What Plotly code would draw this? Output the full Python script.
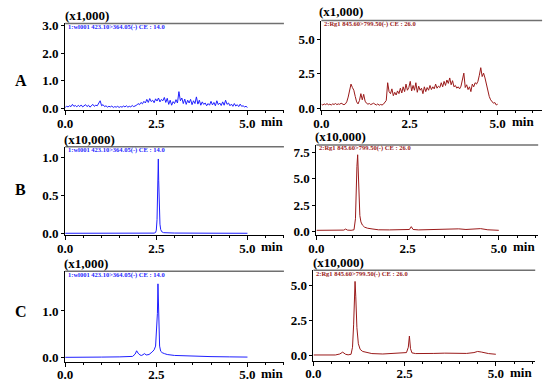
import plotly.graph_objects as go

# ---------------- data ----------------
time_step = 0.04  # min, sampling interval for the noisy traces

# Row A (x1,000) blank/noise traces, sampled every 0.04 min from 0.0 to 5.0
a_left_vals = [
    0.04, 0.08, 0.06, 0.10, 0.07, 0.15, 0.08, 0.11, 0.06, 0.12,
    0.07, 0.13, 0.06, 0.10, 0.14, 0.07, 0.12, 0.05, 0.09, 0.15,
    0.08, 0.12, 0.10, 0.22, 0.28, 0.10, 0.14, 0.07, 0.10, 0.05,
    0.08, 0.06, 0.09, 0.04, 0.07, 0.05, 0.08, 0.04, 0.07, 0.05,
    0.09, 0.06, 0.10, 0.05, 0.08, 0.06, 0.11, 0.07, 0.09, 0.12,
    0.18, 0.14, 0.22, 0.17, 0.26, 0.20, 0.33, 0.22, 0.36, 0.25,
    0.30, 0.21, 0.35, 0.27, 0.38, 0.24, 0.33, 0.28, 0.40, 0.22,
    0.37, 0.15, 0.30, 0.12, 0.25, 0.18, 0.32, 0.20, 0.61, 0.28,
    0.38, 0.18, 0.34, 0.15, 0.30, 0.20, 0.33, 0.14, 0.28, 0.18,
    0.42, 0.16, 0.30, 0.12, 0.24, 0.15, 0.20, 0.10, 0.18, 0.12,
    0.26, 0.13, 0.22, 0.10, 0.28, 0.14, 0.20, 0.11, 0.24, 0.12,
    0.30, 0.15, 0.20, 0.10, 0.16, 0.08, 0.18, 0.09, 0.14, 0.07,
    0.16, 0.08, 0.10, 0.06, 0.08, 0.04,
]
a_right_vals = [
    0.28, 0.22, 0.30, 0.25, 0.32, 0.24, 0.28, 0.22, 0.30, 0.26,
    0.33, 0.25, 0.30, 0.27, 0.35, 0.28, 0.24, 0.30, 0.45, 0.80,
    1.35, 1.75, 1.50, 1.30, 0.85, 0.45, 0.30, 0.55, 1.05, 0.60,
    1.00, 0.50, 0.35, 0.28, 0.33, 0.25, 0.30, 0.35, 0.28, 0.22,
    0.30, 0.20, 0.26, 0.22, 0.28, 0.40, 0.55, 1.85, 1.20, 1.05,
    1.40, 0.90, 1.15, 0.95, 1.25, 1.05, 1.45, 1.10, 1.55, 1.20,
    1.75, 1.30, 1.50, 1.95, 1.25, 1.65, 1.30, 1.85, 1.15, 1.60,
    1.30, 1.45, 1.05, 1.55, 1.20, 1.50, 1.30, 1.65, 1.35, 1.55,
    1.40, 1.75, 1.45, 1.60, 1.50, 1.85, 1.55, 1.95, 1.65, 2.05,
    1.80, 2.20, 1.70, 2.00, 1.55, 1.65, 1.45, 1.55, 1.40, 1.60,
    2.10, 2.55, 1.50, 1.70, 1.35, 1.55, 1.20, 1.75, 1.55, 1.85,
    1.75, 1.95, 2.40, 2.95, 2.30, 2.55, 2.20, 1.70, 1.30, 0.85,
    0.60, 0.50, 0.35, 0.40, 0.22, 0.28,
]
a_left_t = [round(i * time_step, 2) for i in range(len(a_left_vals))]
a_right_t = [round(i * time_step, 2) for i in range(len(a_right_vals))]

# Row B (x10,000)
b_left_t = [0.0, 1.0, 2.0, 2.44, 2.48, 2.50, 2.52, 2.535, 2.545, 2.555, 2.565,
            2.58, 2.60, 2.62, 2.65, 2.70, 3.0, 4.0, 5.0]
b_left_v = [0.0, 0.0, 0.0, 0.002, 0.01, 0.04, 0.18, 0.55, 0.80, 0.98, 0.70,
            0.35, 0.12, 0.05, 0.02, 0.008, 0.003, 0.001, 0.0]
b_right_t = [0.0, 0.3, 0.6, 0.75, 0.80, 0.85, 0.95, 1.03, 1.07, 1.09, 1.11, 1.13,
             1.15, 1.17, 1.19, 1.22, 1.26, 1.32, 1.40, 1.55, 1.70, 2.0, 2.3, 2.55,
             2.60, 2.65, 2.8, 3.0, 3.2, 3.4, 3.55, 3.7, 3.9, 4.1, 4.3, 4.5, 4.7, 5.0]
b_right_v = [0.10, 0.08, 0.10, 0.12, 0.22, 0.12, 0.10, 0.15, 1.2, 4.5, 6.2, 7.3,
             5.5, 2.6, 1.5, 0.9, 0.6, 0.4, 0.3, 0.22, 0.15, 0.14, 0.15, 0.18,
             0.45, 0.18, 0.14, 0.16, 0.18, 0.20, 0.25, 0.20, 0.24, 0.18, 0.20, 0.26, 0.15, 0.10]

# Row C
c_left_t = [0.0, 0.5, 1.0, 1.5, 1.85, 1.92, 1.96, 2.00, 2.05, 2.10, 2.15, 2.18, 2.22,
            2.30, 2.38, 2.44, 2.48, 2.51, 2.53, 2.545, 2.56, 2.575, 2.59, 2.62, 2.66,
            2.72, 2.8, 3.0, 3.3, 3.6, 4.0, 4.5, 5.0]
c_left_v = [0.01, 0.02, 0.015, 0.02, 0.03, 0.08, 0.15, 0.10, 0.06, 0.05, 0.07, 0.09, 0.06,
            0.07, 0.12, 0.17, 0.25, 0.55, 0.95, 1.58, 0.95, 0.50, 0.25, 0.14, 0.11,
            0.09, 0.07, 0.05, 0.04, 0.03, 0.025, 0.02, 0.015]
c_right_t = [0.0, 0.3, 0.6, 0.72, 0.80, 0.88, 0.95, 1.03, 1.07, 1.10, 1.12, 1.14, 1.16,
             1.19, 1.23, 1.28, 1.35, 1.45, 1.6, 1.9, 2.2, 2.4, 2.55, 2.60, 2.63, 2.66,
             2.70, 2.8, 3.0, 3.3, 3.6, 3.9, 4.2, 4.4, 4.5, 4.6, 4.8, 5.0]
c_right_v = [0.05, 0.06, 0.05, 0.12, 0.25, 0.10, 0.06, 0.10, 0.6, 2.2, 4.0, 5.3, 4.2,
             2.0, 0.85, 0.45, 0.30, 0.22, 0.15, 0.12, 0.15, 0.20, 0.22, 0.60, 1.40, 0.50,
             0.20, 0.15, 0.14, 0.16, 0.18, 0.15, 0.16, 0.22, 0.30, 0.26, 0.15, 0.10]

x_tick_vals = [0.0, 2.5, 5.0]
left_title = "1:wl001 423.10>364.05(-) CE : 14.0"
right_title = "2:Rg1 845.60>799.50(-) CE : 26.0"
row_labels = ["A", "B", "C"]

BLUE = "#1f1fff"
RED = "#9a1a1a"
FONT = "Liberation Serif, Times New Roman, serif"
W, H = 550, 386

# panel geometry in pixels: (x_left, x_right), (y_bottom, y_top), axis ranges, dtick, scale label
panels = [
    dict(t=a_left_t, v=a_left_vals, color=BLUE, title=left_title,
         px=(58, 280), py=(108, 19), xr=(0, 6.0), yr=(-0.05, 3.07), dt=1.0,
         scale="(x1,000)", sc_pos=(56, 11)),
    dict(t=a_right_t, v=a_right_vals, color=RED, title=right_title,
         px=(318, 542), py=(108, 16), xr=(0, 6.26), yr=(-0.14, 6.4), dt=2.5,
         scale="(x1,000)", sc_pos=(314, 7)),
    dict(t=b_left_t, v=b_left_v, color=BLUE, title=left_title,
         px=(58, 280), py=(237, 146), xr=(0, 6.0), yr=(-0.026, 1.14), dt=0.5,
         scale="(x10,000)", sc_pos=(55, 138)),
    dict(t=b_right_t, v=b_right_v, color=RED, title=right_title,
         px=(313, 538), py=(237, 144), xr=(0, 6.08), yr=(-0.37, 8.24), dt=2.5,
         scale="(x10,000)", sc_pos=(309, 135)),
    dict(t=c_left_t, v=c_left_v, color=BLUE, title=left_title,
         px=(58, 280), py=(367, 274), xr=(0, 6.0), yr=(-0.08, 1.85), dt=1.0,
         scale="(x1,000)", sc_pos=(55, 266)),
    dict(t=c_right_t, v=c_right_v, color=RED, title=right_title,
         px=(310, 535), py=(366, 273), xr=(0, 6.08), yr=(-0.35, 6.1), dt=2.5,
         scale="(x10,000)", sc_pos=(307, 265)),
]
row_label_y = [78, 190, 315]


def fx(p):
    return p / W


def fy(p):
    return 1 - p / H


fig = go.Figure()
annotations = []
shapes = []
layout = {}

for i, p in enumerate(panels):
    n = "" if i == 0 else str(i + 1)
    xa, ya = "x" + n, "y" + n
    fig.add_trace(go.Scatter(x=p["t"], y=p["v"], mode="lines",
                             line=dict(color=p["color"], width=1),
                             xaxis=xa, yaxis=ya, showlegend=False,
                             hoverinfo="skip"))
    layout["xaxis" + n] = dict(
        domain=[fx(p["px"][0]), fx(p["px"][1])], range=list(p["xr"]),
        anchor=ya, tickvals=x_tick_vals, tickformat=".1f",
        showline=True, linecolor="black", linewidth=1,
        ticks="outside", ticklen=4, tickcolor="black",
        minor=dict(dtick=0.5, ticks="outside", ticklen=2, tickcolor="black"),
        showgrid=False, zeroline=False, ticklabelstandoff=-3,
        tickfont=dict(family=FONT, size=13, color="black", weight="bold"),
    )
    layout["yaxis" + n] = dict(
        domain=[fy(p["py"][0]), fy(p["py"][1])], range=list(p["yr"]),
        anchor=xa, dtick=p["dt"], tick0=0, tickformat=".1f",
        showline=True, linecolor="black", linewidth=1,
        ticks="outside", ticklen=3, tickcolor="black",
        showgrid=False, zeroline=False,
        tickfont=dict(family=FONT, size=13, color="black", weight="bold"),
    )
    # gray top frame line
    shapes.append(dict(type="line", xref=xa + " domain", yref=ya + " domain",
                       x0=0, x1=1, y0=1, y1=1,
                       line=dict(color="#707070", width=1.5)))
    # scale factor label
    annotations.append(dict(text=p["scale"], xref="paper", yref="paper",
                            x=fx(p["sc_pos"][0]), y=fy(p["sc_pos"][1]),
                            xanchor="left", yanchor="middle", showarrow=False,
                            font=dict(family=FONT, size=13, color="black", weight="bold")))
    # inner trace title
    annotations.append(dict(text=p["title"], xref="paper", yref="paper",
                            x=fx(p["px"][0] + 1), y=fy(p["py"][1] + 3.5),
                            xanchor="left", yanchor="middle", showarrow=False,
                            font=dict(family=FONT, size=6.5, color=p["color"], weight="bold")))
    # "min" unit label
    annotations.append(dict(text="min", xref=xa, yref="paper",
                            x=5.0, y=fy(p["py"][0] + 12),
                            xanchor="left", yanchor="middle", showarrow=False,
                            xshift=12,
                            font=dict(family=FONT, size=13, color="black", weight="bold")))

for lab, yy in zip(row_labels, row_label_y):
    annotations.append(dict(text=lab, xref="paper", yref="paper",
                            x=fx(13), y=fy(yy), xanchor="center", yanchor="middle",
                            showarrow=False,
                            font=dict(family=FONT, size=16, color="black", weight="bold")))

fig.update_layout(
    width=W, height=H, margin=dict(l=0, r=0, t=0, b=0),
    paper_bgcolor="white", plot_bgcolor="white",
    font=dict(family=FONT, size=13, color="black", weight="bold"),
    annotations=annotations, shapes=shapes, **layout,
)

fig.write_html("out.html", config={"displayModeBar": False},
               post_script="document.body.style.margin='0px';document.body.style.padding='0px';")
